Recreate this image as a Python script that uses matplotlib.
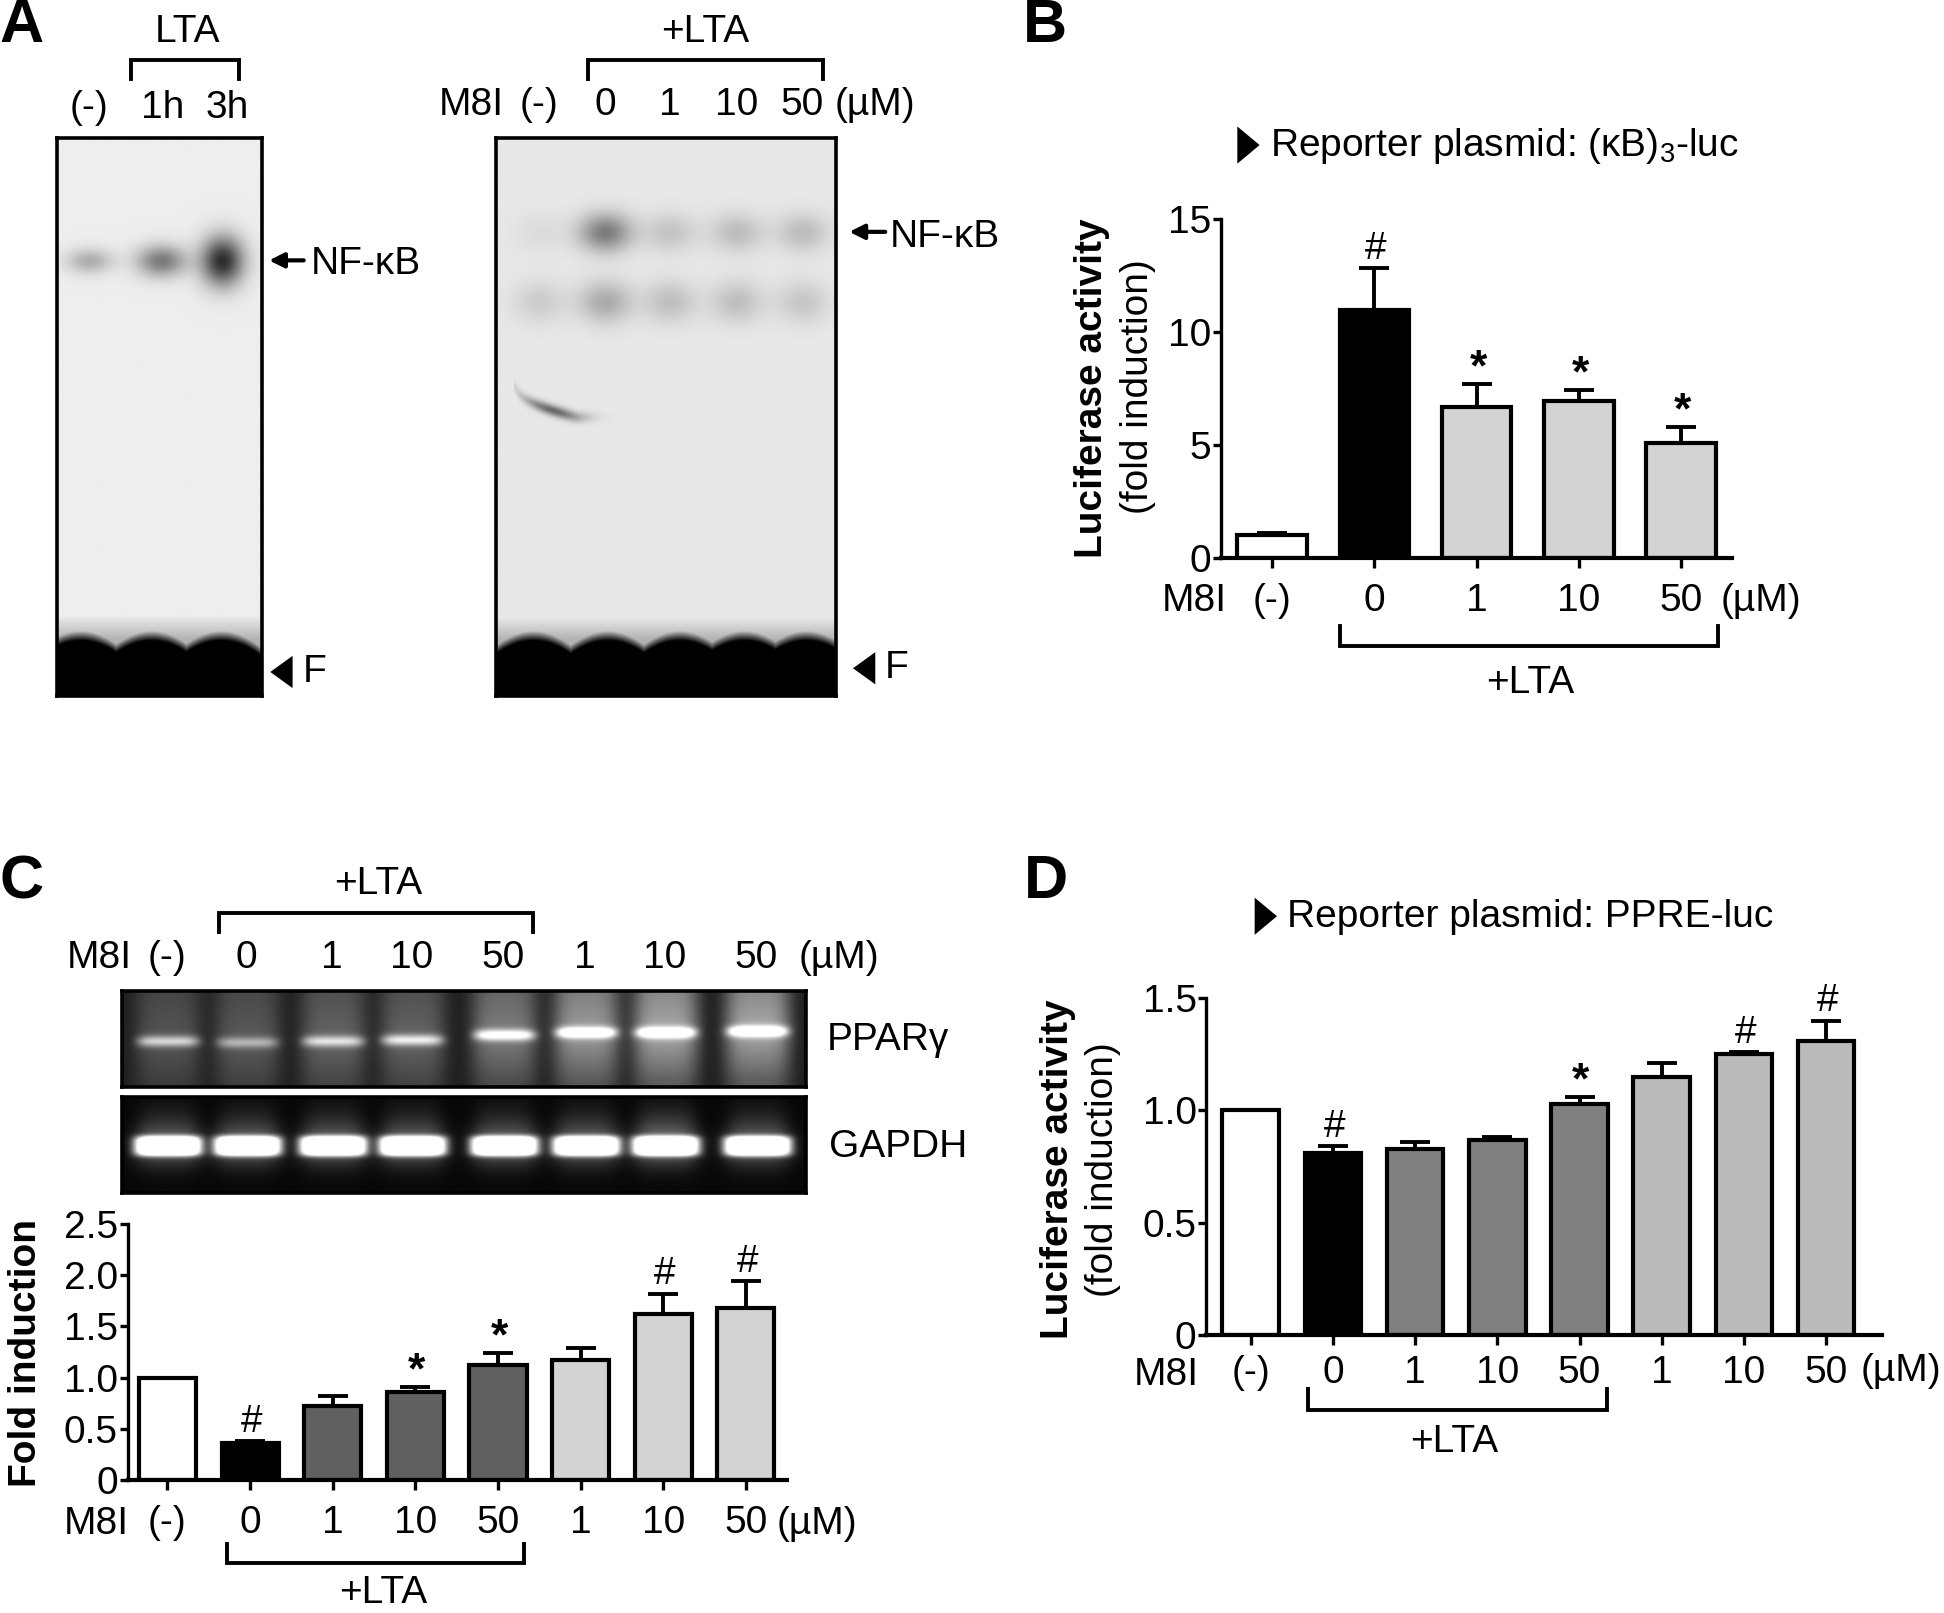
import numpy as np
import matplotlib
matplotlib.use('Agg')
import matplotlib.pyplot as plt
from matplotlib.patches import Polygon

plt.rcParams['font.family'] = ['Liberation Sans', 'DejaVu Sans']
plt.rcParams['mathtext.default'] = 'regular'

# data
b_labels = ['(-)', '0', '1', '10', '50']
b_values = [1.0, 11.0, 6.7, 6.95, 5.1]
b_errors = [0.1, 1.85, 1.0, 0.5, 0.7]
b_marks = ['', '#', '*', '*', '*']
b_colors = ['white', 'black', '#d3d3d3', '#d3d3d3', '#d3d3d3']
b_yticks = [0, 5, 10, 15]

cd_labels = ['(-)', '0', '1', '10', '50', '1', '10', '50']

c_values = [1.0, 0.36, 0.72, 0.86, 1.12, 1.17, 1.62, 1.68]
c_errors = [0.0, 0.02, 0.10, 0.05, 0.12, 0.12, 0.20, 0.26]
c_marks = ['', '#', '', '*', '*', '', '#', '#']
c_colors = ['white', 'black', '#606060', '#606060', '#606060', '#d3d3d3', '#d3d3d3', '#d3d3d3']
c_yticks = [0, 0.5, 1.0, 1.5, 2.0, 2.5]
c_yticklabels = ['0', '0.5', '1.0', '1.5', '2.0', '2.5']

d_values = [1.0, 0.81, 0.83, 0.87, 1.03, 1.15, 1.25, 1.31]
d_errors = [0.0, 0.03, 0.03, 0.01, 0.03, 0.06, 0.01, 0.09]
d_marks = ['', '#', '', '', '*', '', '#', '#']
d_colors = ['white', 'black', '#808080', '#808080', '#808080', '#bbbbbb', '#bbbbbb', '#bbbbbb']
d_yticks = [0, 0.5, 1.0, 1.5]
d_yticklabels = ['0', '0.5', '1.0', '1.5']

# band strengths on the gels, lane by lane
gel1_lanes = [72, 130, 179]
gel1_nfkb = [0.25, 0.45, 0.75]
gel2_lanes = [435, 488, 540, 594, 647]
gel2_nfkb = [0.05, 0.42, 0.14, 0.17, 0.17]
gel2_lower = [0.11, 0.24, 0.16, 0.16, 0.13]
pcr_lanes = [135, 199, 268, 332, 406, 472, 536, 610]
ppar_band = [0.50, 0.35, 0.50, 0.55, 0.65, 0.75, 0.75, 0.75]
ppar_glow = [0.22, 0.24, 0.28, 0.28, 0.38, 0.50, 0.55, 0.55]
gapdh_glow = [0.15, 0.15, 0.15, 0.15, 0.15, 0.15, 0.2, 0.15]

W, H = 1568.0, 1301.0
FS = 28
fig = plt.figure(figsize=(19.44, 16.13), dpi=100)


def make_axes(x0, y0, x1, y1):
    return fig.add_axes([x0 / W, 1 - y1 / H, (x1 - x0) / W, (y1 - y0) / H])


def bar_panel(box, xlim, values, errors, colors, marks, labels, ylim, yticks, yticklabels, width, pad):
    ax = make_axes(*box)
    x = np.arange(len(values))
    ax.errorbar(x, values, yerr=[np.zeros(len(errors)), errors], fmt='none', ecolor='black',
                elinewidth=2.8, capsize=11, capthick=2.8, zorder=1)
    ax.bar(x, values, width, color=colors, edgecolor='black', linewidth=3, zorder=2)
    ax.set_xlim(*xlim)
    ax.set_ylim(*ylim)
    ax.spines['top'].set_visible(False)
    ax.spines['right'].set_visible(False)
    ax.spines['left'].set_linewidth(2.4)
    ax.spines['bottom'].set_linewidth(3)
    ax.set_xticks(x)
    ax.set_xticklabels(labels, fontsize=FS)
    ax.set_yticks(yticks)
    ax.set_yticklabels(yticklabels, fontsize=FS)
    ax.tick_params(axis='x', length=7, width=2.4, pad=pad)
    ax.tick_params(axis='y', length=6, width=2.4, pad=1)
    ax.patch.set_alpha(0)
    for xi, v, e, m in zip(x, values, errors, marks):
        if m:
            off = -4 if m == '*' else 1
            ax.annotate(m, (xi, v + e), xytext=(1, off), textcoords='offset points',
                        ha='center', va='bottom', fontsize=FS if m == '#' else 32,
                        fontweight='normal' if m == '#' else 'bold')
    return ax


def gauss(X, Y, cx, cy, sx, sy):
    return np.exp(-((X - cx) / sx) ** 2 / 2 - ((Y - cy) / sy) ** 2 / 2)


def gel_grid(x0, y0, x1, y1):
    xs = np.arange(x0, x1, 0.5)
    ys = np.arange(y0, y1, 0.5)
    return np.meshgrid(xs, ys)


def show_gel(img, box):
    ax = make_axes(*box)
    ax.imshow(np.clip(img, 0, 1), cmap='gray', vmin=0, vmax=1, aspect='auto', interpolation='bilinear')
    ax.set_xticks([])
    ax.set_yticks([])
    for s in ax.spines.values():
        s.set_linewidth(2.6)
    return ax


def front(X, Y, lanes):
    # the dark free probe front at the foot of the gel
    edge = np.full_like(X, 530.0)
    for c in lanes:
        edge = np.minimum(edge, 514 + 0.012 * (X - c) ** 2)
    dark = np.clip((Y - edge + 8) / 10.0, 0, 1)
    haze = 0.3 * np.clip((Y - 490) / 25.0, 0, 1)
    return np.maximum(dark, haze)


# panel A, gels
box = (46, 111, 211, 561)
X, Y = gel_grid(box[0], box[1], box[2], box[3])
dark = np.full_like(X, 0.07)
for c, v, sx, sy in zip(gel1_lanes, gel1_nfkb, [13, 14, 12], [7, 9, 14]):
    dark += v * gauss(X, Y, c, 210, sx, sy)
dark = np.maximum(dark, front(X, Y, [65, 122, 178]))
show_gel(1 - dark, box)

box = (400, 111, 674, 561)
X, Y = gel_grid(box[0], box[1], box[2], box[3])
dark = np.full_like(X, 0.09)
for c, v, w in zip(gel2_lanes, gel2_nfkb, gel2_lower):
    dark += v * gauss(X, Y, c, 187, 15, 11)
    dark += w * gauss(X, Y, c, 243, 15, 12)
arc_y = 312 + 24 * np.sqrt(np.clip((X - 416) / 50.0, 0, 1))
dark += 0.5 * np.exp(-((Y - arc_y) / 3.2) ** 2 / 2) * np.exp(-((X - 446) / 17.0) ** 2 / 2) * (X > 414)
dark = np.maximum(dark, front(X, Y, [430, 490, 548, 600, 650]))
show_gel(1 - dark, box)

# panel C, PCR gels
box = (98, 799, 650, 877)
X, Y = gel_grid(box[0], box[1], box[2], box[3])
light = np.full_like(X, 0.12)
band_y = [840, 841, 840, 839, 835, 833, 833, 832]
for c, v, g, by in zip(pcr_lanes, ppar_band, ppar_glow, band_y):
    col = np.exp(-((X - c) / 27.0) ** 4)
    light += g * col * (1 - 0.55 * np.clip((Y - by) / 40.0, 0, 1)) * (1 - 0.3 * np.clip((by - Y) / 40.0, 0, 1))
    light += v * np.exp(-((X - c) / 25.0) ** 6) * np.exp(-((Y - by) / 4.5) ** 2)
show_gel(light, box)

box = (98, 885, 650, 962)
X, Y = gel_grid(box[0], box[1], box[2], box[3])
light = np.full_like(X, 0.03)
for c, g in zip(pcr_lanes, gapdh_glow):
    light += g * np.exp(-((X - c) / 24.0) ** 4) * np.exp(-((Y - 915) / 24.0) ** 2)
    light += 1.4 * np.exp(-((X - c) / 27.0) ** 6) * np.exp(-((Y - 924) / 8.0) ** 4)
    light += 0.25 * np.exp(-((X - c) / 30.0) ** 4) * np.exp(-((Y - 924) / 15.0) ** 2)
show_gel(light, box)

# bar panels
bar_panel((985, 177, 1397, 450), (-0.497, 4.497), b_values, b_errors, b_colors, b_marks, b_labels,
          (0, 15), b_yticks, [str(t) for t in b_yticks], 0.68, 11)
bar_panel((103, 987, 635, 1194), (-0.48, 7.5), c_values, c_errors, c_colors, c_marks, cd_labels,
          (0, 2.5), c_yticks, c_yticklabels, 0.69, 11)
bar_panel((973, 805, 1518, 1077), (-0.54, 7.68), d_values, d_errors, d_colors, d_marks, cd_labels,
          (0, 1.5), d_yticks, d_yticklabels, 0.69, 7)

# overlay for the annotations, in layout coordinates
ov = fig.add_axes([0, 0, 1, 1], zorder=10)
ov.set_xlim(0, W)
ov.set_ylim(H, 0)
ov.axis('off')


def txt(x, y, s, ha='center', size=FS, **kw):
    ov.text(x, y + 1, s, ha=ha, va='center', fontsize=size, **kw)


def bracket(x0, x1, ytop, ybot, down=True):
    if down:
        ov.plot([x0, x0, x1, x1], [ybot, ytop, ytop, ybot], color='black', lw=2.8, solid_joinstyle='miter')
    else:
        ov.plot([x0, x0, x1, x1], [ytop, ybot, ybot, ytop], color='black', lw=2.8, solid_joinstyle='miter')


def left_tri(x0, x1, y, h):
    ov.add_patch(Polygon([(x1, y - h), (x1, y + h), (x0, y)], color='black', lw=0))


def right_tri(x0, x1, y, h):
    ov.add_patch(Polygon([(x0, y - h), (x0, y + h), (x1, y)], color='black', lw=0))


def left_arrow(x0, x1, y):
    ov.annotate('', xy=(x1, y), xytext=(x0, y),
                arrowprops=dict(arrowstyle='-|>', lw=3, color='black', mutation_scale=22,
                                shrinkA=0, shrinkB=0))


# panel letters
for x, y, s in [(17, 20, 'A'), (843, 20, 'B'), (17, 711, 'C'), (844, 711, 'D')]:
    txt(x, y, s, size=44, fontweight='bold')

# panel A text
txt(151, 25, 'LTA')
bracket(106, 193, 48, 64)
for x, s in [(72, '(-)'), (131, '1h'), (183, '3h')]:
    txt(x, 86, s)
txt(569, 25, '+LTA')
bracket(474, 664, 48, 64)
for x, s in [(380, 'M8I'), (435, '(-)'), (488, '0'), (540, '1'), (594, '10'), (647, '50'), (706, '(µM)')]:
    txt(x, 84, s)
left_arrow(245, 217, 210)
txt(251, 212, 'NF-κB', ha='left')
left_arrow(714, 685, 187)
txt(718, 190, 'NF-κB', ha='left')
left_tri(218, 236, 542, 13)
txt(244, 541, 'F', ha='left')
left_tri(688, 706, 539, 13)
txt(714, 538, 'F', ha='left')

# panel B text
right_tri(998, 1016, 117, 15)
txt(1024, 117, 'Reporter plasmid: (κB)$_{3}$-luc', ha='left')
txt(881, 312, 'Luciferase activity', fontweight='bold', rotation=90)
txt(918, 311, '(fold induction)', rotation=90)
txt(963, 484, 'M8I')
txt(1420, 484, '(µM)')
bracket(1081, 1386, 505, 521, down=False)
txt(1234, 550, '+LTA')

# panel C text
txt(305, 712, '+LTA')
bracket(177, 430, 736, 752)
for x, s in [(80, 'M8I'), (135, '(-)'), (199, '0'), (268, '1'), (332, '10'), (406, '50'),
             (472, '1'), (536, '10'), (610, '50'), (677, '(µM)')]:
    txt(x, 772, s)
txt(667, 838, 'PPARγ', ha='left')
txt(669, 924, 'GAPDH', ha='left')
txt(21, 1090, 'Fold induction', fontweight='bold', rotation=90)
txt(78, 1228, 'M8I')
txt(659, 1228, '(µM)')
bracket(183, 423, 1245, 1261, down=False)
txt(309, 1284, '+LTA')

# panel D text
right_tri(1012, 1030, 739, 15)
txt(1038, 739, 'Reporter plasmid: PPRE-luc', ha='left')
txt(853, 942, 'Luciferase activity', fontweight='bold', rotation=90)
txt(890, 942, '(fold induction)', rotation=90)
txt(941, 1108, 'M8I')
txt(1533, 1105, '(µM)')
bracket(1055, 1296, 1120, 1137, down=False)
txt(1173, 1162, '+LTA')

fig.savefig('out.png', dpi=100)
